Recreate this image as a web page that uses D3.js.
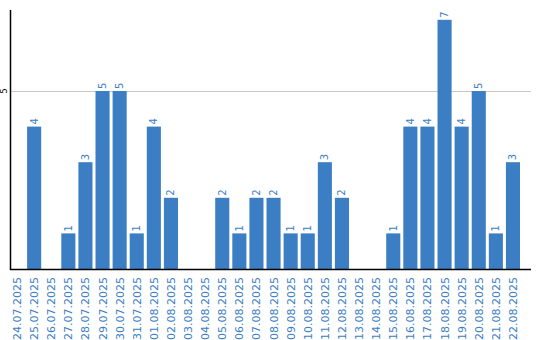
<!DOCTYPE html>
<html><head><meta charset="utf-8">
<script src="https://cdn.jsdelivr.net/npm/d3@7"></script>
<style>body{margin:0;background:#fff}svg{display:block}</style>
</head><body>
<svg id="c" width="540" height="340"></svg>
<script>
const dates = ["24.07.2025","25.07.2025","26.07.2025","27.07.2025","28.07.2025","29.07.2025","30.07.2025","31.07.2025","01.08.2025","02.08.2025","03.08.2025","04.08.2025","05.08.2025","06.08.2025","07.08.2025","08.08.2025","09.08.2025","10.08.2025","11.08.2025","12.08.2025","13.08.2025","14.08.2025","15.08.2025","16.08.2025","17.08.2025","18.08.2025","19.08.2025","20.08.2025","21.08.2025","22.08.2025"];
const values = [0,4,0,1,3,5,5,1,4,2,0,0,2,1,2,2,1,1,3,2,0,0,1,4,4,7,4,5,1,3];
const yTicks = [5];

(function(){
const svg = d3.select("#c");
const pL = 11, pR = 531, pT = 10, base = 269;
const x = d3.scaleBand().domain(dates).range([10, 520]).paddingInner(3/17).paddingOuter(0).align(0);
const y = d3.scaleLinear().domain([0, 259/35.6]).range([base, pT]);
const blue = "#3b7ec4";
const pts = values.map((v,i)=>({d:dates[i],v})).filter(o=>o.v>0);

svg.append("g").selectAll("line").data(yTicks).join("line")
  .attr("x1", pL).attr("x2", pR).attr("y1", d => Math.round(y(d))+0.5).attr("y2", d => Math.round(y(d))+0.5)
  .attr("stroke", "#c8c8c8").attr("stroke-width", 1);

svg.append("g").selectAll("rect").data(pts).join("rect")
  .attr("x", o => x(o.d)).attr("width", x.bandwidth())
  .attr("y", o => y(o.v)).attr("height", o => base - y(o.v))
  .attr("fill", blue);

svg.append("g").selectAll("text").data(pts).join("text")
  .attr("transform", o => `translate(${x(o.d)+x.bandwidth()/2+3.5},${y(o.v)-2}) rotate(-90)`)
  .attr("font-family", "DejaVu Sans, sans-serif").attr("font-size", 10).attr("fill", blue)
  .text(o => o.v);

svg.append("line").attr("x1", pL-0.5).attr("x2", pL-0.5).attr("y1", pT).attr("y2", base+1).attr("stroke", "#000").attr("stroke-width", 1.5);
svg.append("line").attr("x1", pL-1).attr("x2", pR).attr("y1", base+0.5).attr("y2", base+0.5).attr("stroke", "#000").attr("stroke-width", 1.5);

svg.append("g").selectAll("text").data(yTicks).join("text")
  .attr("transform", d => `translate(7,${y(d)}) rotate(-90)`)
  .attr("text-anchor", "middle")
  .attr("font-family", "DejaVu Sans, sans-serif").attr("font-size", 8).attr("fill", "#000")
  .text(d => d);

svg.append("g").selectAll("text").data(dates).join("text")
  .attr("transform", d => `translate(${x(d)+x.bandwidth()/2+4},${base+8}) rotate(-90)`)
  .attr("text-anchor", "end")
  .attr("font-family", "DejaVu Sans, sans-serif").attr("font-size", 11).attr("fill", blue)
  .text(d => d);
})();
</script>
</body></html>
